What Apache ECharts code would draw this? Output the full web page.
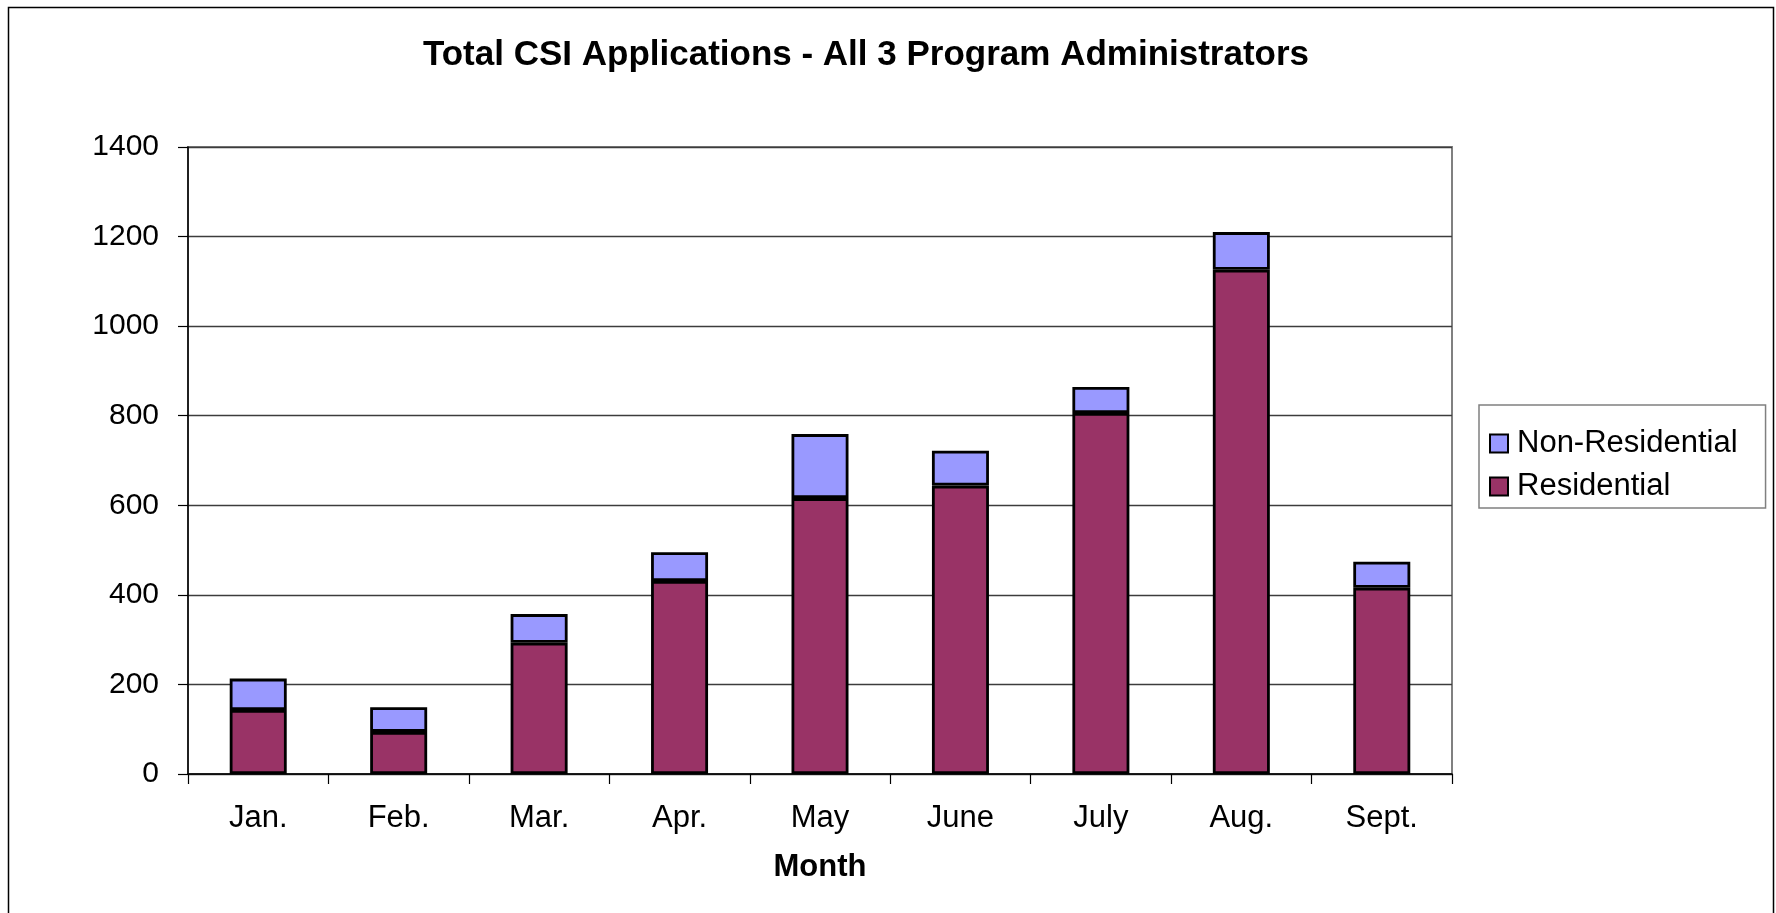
<!DOCTYPE html>
<html>
<head>
<meta charset="utf-8">
<script src="https://cdn.jsdelivr.net/npm/echarts@6/dist/echarts.min.js"></script>
<style>
html,body{margin:0;padding:0;background:#fff;}
#c{width:1776px;height:913px;}
</style>
</head>
<body>
<div id="c"></div>
<script>
const categories = ["Jan.", "Feb.", "Mar.", "Apr.", "May", "June", "July", "Aug.", "Sept."];
const residential = [143, 94, 293, 431, 616, 644, 806, 1126, 416];
const nonResidential = [70, 55, 64, 64, 143, 78, 58, 84, 58];
const yTicks = [0, 200, 400, 600, 800, 1000, 1200, 1400];

const font = '"Liberation Sans", Arial, sans-serif';
const chart = echarts.init(document.getElementById('c'));
chart.setOption({
  animation: false,
  backgroundColor: '#fff',
  textStyle: { fontFamily: font },
  title: {
    text: 'Total CSI Applications - All 3 Program Administrators',
    left: 861, top: 33, textAlign: 'center',
    textStyle: { fontFamily: font, fontSize: 35, fontWeight: 'bold', color: '#000' }
  },
  graphic: [{
    type: 'rect', shape: { x: 8.5, y: 7.5, width: 1765, height: 930 },
    style: { fill: 'none', stroke: '#000', lineWidth: 1.5 }, silent: true, z: -1
  }],
  legend: {
    orient: 'vertical', left: 1479, top: 405,
    padding: [23, 28, 6, 10],
    itemGap: 12,
    itemWidth: 18, itemHeight: 18,
    icon: 'rect',
    borderColor: '#808080', borderWidth: 1.5,
    data: ['Non-Residential', 'Residential'],
    textStyle: { fontFamily: font, fontSize: 31, color: '#000', padding: [0, 0, 0, 4] }
  },
  grid: {
    left: 188, top: 147, width: 1264, height: 627,
    show: true, borderColor: '#808080', borderWidth: 2
  },
  xAxis: {
    type: 'category', data: categories,
    name: 'Month', nameLocation: 'middle', nameGap: 78,
    nameTextStyle: { fontFamily: font, fontSize: 31, fontWeight: 'bold', color: '#000' },
    axisLine: { lineStyle: { color: '#000', width: 1.5 } },
    axisTick: { show: true, length: 10, lineStyle: { color: '#000', width: 1.2 } },
    axisLabel: { fontFamily: font, fontSize: 31, color: '#000', margin: 29 }
  },
  yAxis: {
    type: 'value', min: 0, max: 1400, interval: 200,
    axisLine: { show: true, lineStyle: { color: '#000', width: 1.5 } },
    axisTick: { show: true, length: 10, lineStyle: { color: '#000', width: 1.2 } },
    axisLabel: {
      fontFamily: font, fontSize: 30, color: '#000', margin: 29,
      formatter: v => yTicks.includes(v) ? String(v) : ''
    },
    splitLine: { show: true, lineStyle: { color: '#3c3c3c', width: 1.3 } }
  },
  series: [
    {
      name: 'Residential', type: 'bar', stack: 'total', data: residential,
      barWidth: 57,
      itemStyle: { color: '#993366', borderColor: '#000', borderWidth: 2.8 }
    },
    {
      name: 'Non-Residential', type: 'bar', stack: 'total', data: nonResidential,
      barWidth: 57,
      itemStyle: { color: '#9999FF', borderColor: '#000', borderWidth: 2.8 }
    }
  ]
});
</script>
</body>
</html>
